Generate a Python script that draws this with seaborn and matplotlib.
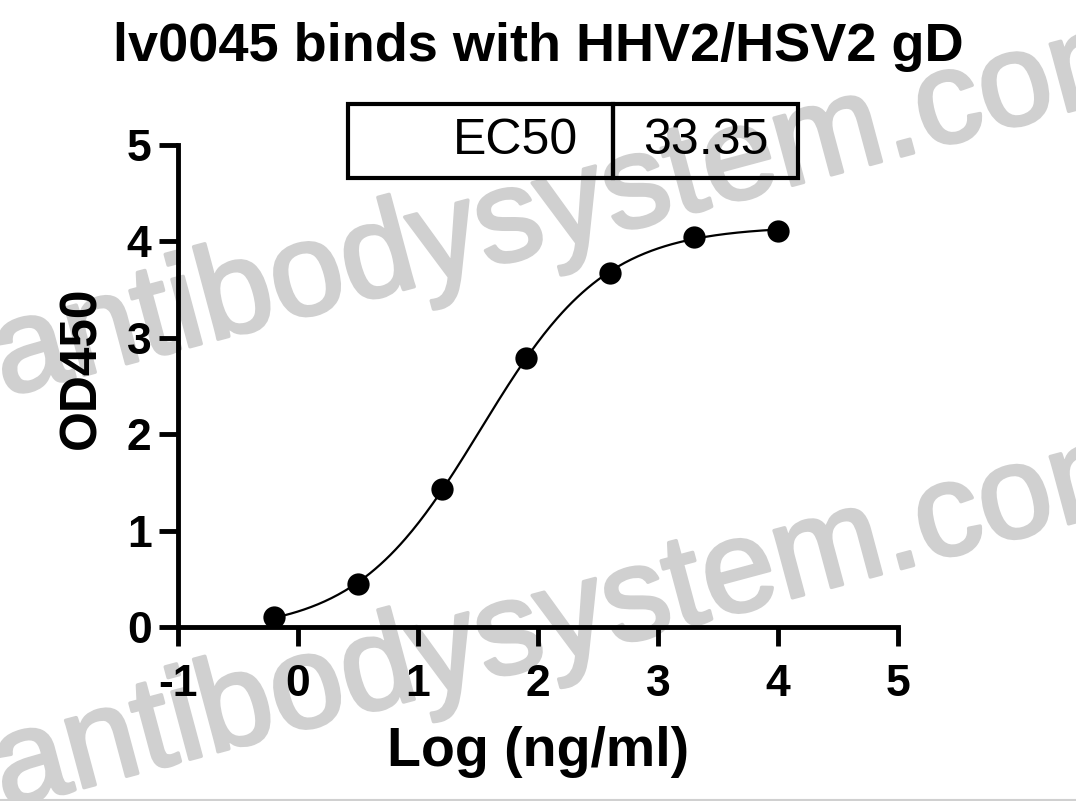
import numpy as np
import pandas as pd
import matplotlib
matplotlib.use('Agg')
import matplotlib.pyplot as plt
import matplotlib.patheffects as pe
import seaborn as sns

# data
log_conc = [-0.2, 0.5, 1.2, 1.9, 2.6, 3.3, 4.0]
od450 = [0.10, 0.45, 1.43, 2.79, 3.67, 4.05, 4.11]
ec50 = 33.35
title = 'lv0045 binds with HHV2/HSV2 gD'
x_ticks = [-1, 0, 1, 2, 3, 4, 5]
y_ticks = [0, 1, 2, 3, 4, 5]
watermark = 'antibodysystem.com'

sns.set_style('ticks')
plt.rcParams['font.family'] = ['Liberation Sans', 'DejaVu Sans']
plt.rcParams.update({'text.color': 'black', 'axes.labelcolor': 'black',
                     'xtick.color': 'black', 'ytick.color': 'black',
                     'axes.edgecolor': 'black', 'axes.unicode_minus': False})

df = pd.DataFrame({'x': log_conc, 'y': od450})

# 4PL fit, EC50 fixed to the reported value
log_ec50 = np.log10(ec50)
x = df['x'].to_numpy()
y = df['y'].to_numpy()
best = None
for hill in np.arange(0.5, 1.5, 0.002):
    f = 1 / (1 + 10 ** ((log_ec50 - x) * hill))
    A = np.column_stack([1 - f, f])
    coef = np.linalg.lstsq(A, y, rcond=None)[0]
    sse = ((A @ coef - y) ** 2).sum()
    if best is None or sse < best[0]:
        best = (sse, hill, coef[0], coef[1])
_, hill, bottom, top = best

xs = np.linspace(x.min(), x.max(), 300)
curve = pd.DataFrame({'x': xs,
                      'y': bottom + (top - bottom) / (1 + 10 ** ((log_ec50 - xs) * hill))})

fig = plt.figure(figsize=(10.76, 8.01), dpi=100)
ax = fig.add_axes([178 / 1076, 174 / 801, 720 / 1076, 482 / 801])
ax.set_facecolor('none')

# watermark behind everything
wm_color = '#d0d0d0'
for wx, wy in [(0.004, 0.505), (0.004, -0.01)]:
    fig.text(wx, wy, watermark, fontsize=95, color=wm_color, rotation=15,
             rotation_mode='anchor', ha='left', va='baseline', zorder=-1,
             path_effects=[pe.withStroke(linewidth=2.5, foreground=wm_color)])
fig.add_artist(plt.Line2D([0, 1], [1.5 / 801, 1.5 / 801], transform=fig.transFigure,
                          color='#d0d0d0', lw=1.5))

sns.lineplot(data=curve, x='x', y='y', color='black', lw=1.6, ax=ax)
sns.scatterplot(data=df, x='x', y='y', color='black', s=220, edgecolor='black',
                zorder=3, clip_on=False, ax=ax)

ax.set_xlim(-1, 5)
ax.set_ylim(0, 5)
ax.set_xticks(x_ticks)
ax.set_yticks(y_ticks)
sns.despine(ax=ax)
for s in ['left', 'bottom']:
    ax.spines[s].set_linewidth(3.5)
ax.tick_params(axis='both', direction='out', length=14, width=3.5,
               labelsize=32, color='black')
ax.tick_params(axis='x', pad=13)
ax.tick_params(axis='y', pad=5)
for lab in ax.get_xticklabels() + ax.get_yticklabels():
    lab.set_fontweight('bold')

ax.set_xlabel('Log (ng/ml)', fontsize=40, fontweight='bold')
ax.set_ylabel('OD450', fontsize=37, fontweight='bold')
ax.xaxis.set_label_coords(0.5, -0.205)
ax.yaxis.set_label_coords(-0.1, 0.537)

fig.text(0.5, 1 - 61 / 801, title, ha='center', va='baseline',
         fontsize=39, fontweight='bold')

# EC50 box
tbl = ax.table(cellText=[['EC50', f'{ec50:.2f}']], cellLoc='center',
               colWidths=[0.589, 0.411], bbox=[0.236, 0.9315, 0.625, 0.154])
tbl.auto_set_font_size(False)
tbl.set_fontsize(36)
tbl.set_clip_on(False)
for cell in tbl.get_celld().values():
    cell.set_linewidth(3)
    cell.set_facecolor('none')
    cell.set_edgecolor('black')
    cell.set_clip_on(False)
    cell.get_text().set_clip_on(False)
c = tbl[0, 0]
c._loc = 'right'
c.PAD = 0.13
c.get_text().set_ha('right')

fig.savefig('out.png', dpi=100, facecolor='white')
